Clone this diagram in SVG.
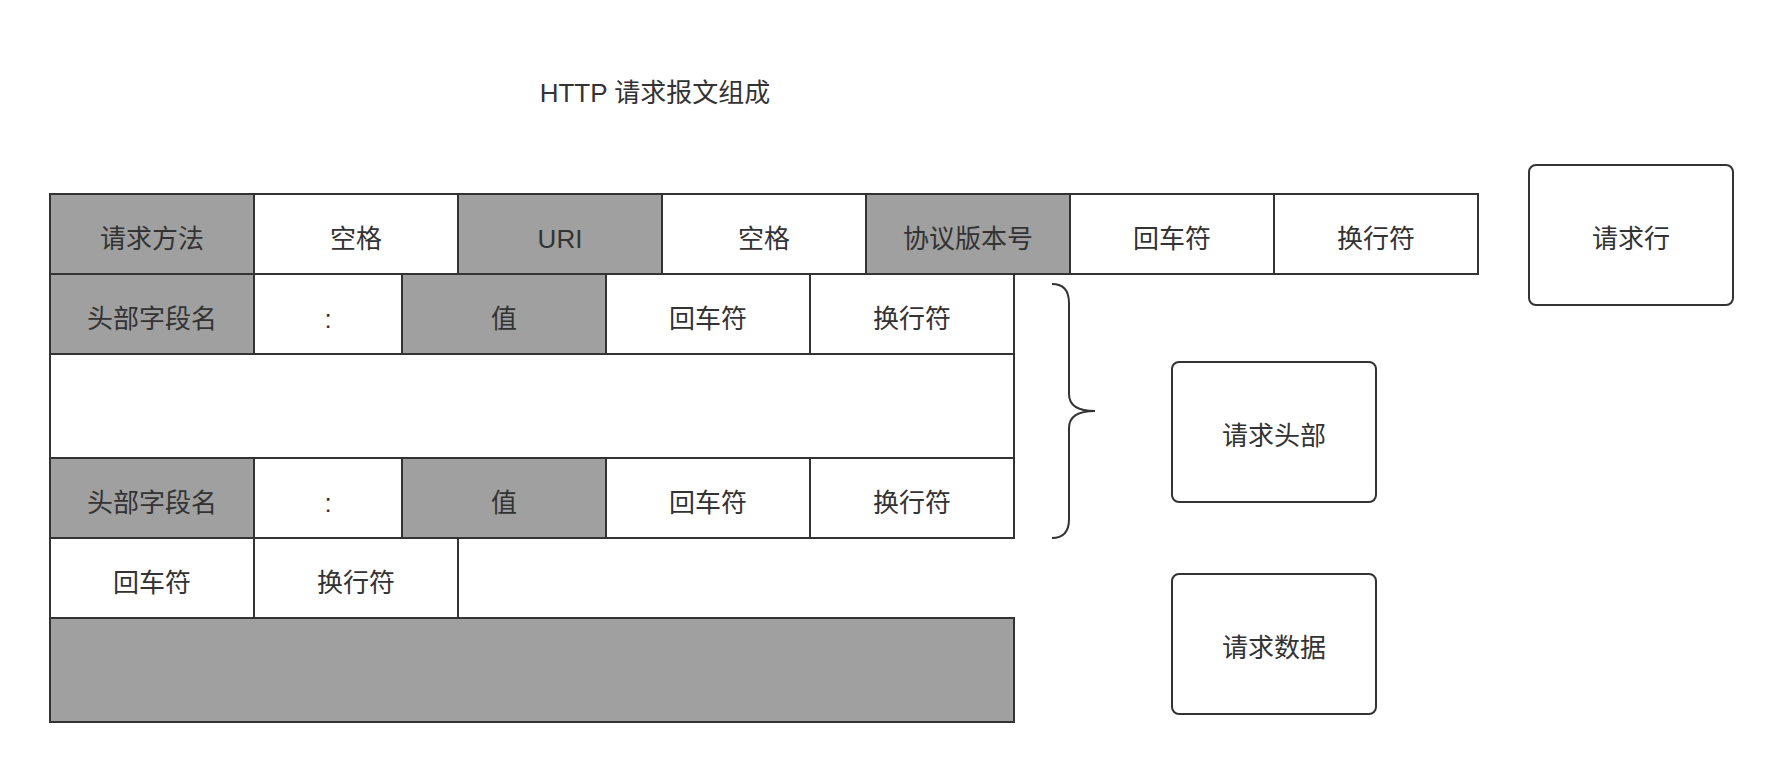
<svg xmlns="http://www.w3.org/2000/svg" width="1783" height="772" viewBox="0 0 1783 772">
<style>
text{font-family:"Liberation Sans","Noto Sans CJK SC",sans-serif;font-size:26px;fill:#333;text-anchor:middle;dominant-baseline:central}
.g{fill:#a0a0a0;stroke:#333;stroke-width:2}
.w{fill:#fff;stroke:#333;stroke-width:2}
.r{fill:#fff;stroke:#333;stroke-width:2}
.b{fill:none;stroke:#333;stroke-width:2}
</style>
<rect width="1783" height="772" fill="#fff"/>
<g id="title"><text x="655" y="93">HTTP 请求报文组成</text></g>
<g id="row1">
<g id="r1c1"><rect class="g" x="50" y="194" width="204" height="80"/><text x="152" y="239">请求方法</text></g>
<g id="r1c2"><rect class="w" x="254" y="194" width="204" height="80"/><text x="356" y="239">空格</text></g>
<g id="r1c3"><rect class="g" x="458" y="194" width="204" height="80"/><text x="560" y="239">URI</text></g>
<g id="r1c4"><rect class="w" x="662" y="194" width="204" height="80"/><text x="764" y="239">空格</text></g>
<g id="r1c5"><rect class="g" x="866" y="194" width="204" height="80"/><text x="968" y="239">协议版本号</text></g>
<g id="r1c6"><rect class="w" x="1070" y="194" width="204" height="80"/><text x="1172" y="239">回车符</text></g>
<g id="r1c7"><rect class="w" x="1274" y="194" width="204" height="80"/><text x="1376" y="239">换行符</text></g>
</g>
<g id="row2">
<g id="r2c1"><rect class="g" x="50" y="274" width="204" height="80"/><text x="152" y="319">头部字段名</text></g>
<g id="r2c2"><rect class="w" x="254" y="274" width="148" height="80"/><text x="328" y="319">:</text></g>
<g id="r2c3"><rect class="g" x="402" y="274" width="204" height="80"/><text x="504" y="319">值</text></g>
<g id="r2c4"><rect class="w" x="606" y="274" width="204" height="80"/><text x="708" y="319">回车符</text></g>
<g id="r2c5"><rect class="w" x="810" y="274" width="204" height="80"/><text x="912" y="319">换行符</text></g>
</g>
<g id="row3"><rect class="w" x="50" y="354" width="964" height="104"/></g>
<g id="row4">
<g id="r4c1"><rect class="g" x="50" y="458" width="204" height="80"/><text x="152" y="503">头部字段名</text></g>
<g id="r4c2"><rect class="w" x="254" y="458" width="148" height="80"/><text x="328" y="503">:</text></g>
<g id="r4c3"><rect class="g" x="402" y="458" width="204" height="80"/><text x="504" y="503">值</text></g>
<g id="r4c4"><rect class="w" x="606" y="458" width="204" height="80"/><text x="708" y="503">回车符</text></g>
<g id="r4c5"><rect class="w" x="810" y="458" width="204" height="80"/><text x="912" y="503">换行符</text></g>
</g>
<g id="row5">
<g id="r5c1"><rect class="w" x="50" y="538" width="204" height="80"/><text x="152" y="583">回车符</text></g>
<g id="r5c2"><rect class="w" x="254" y="538" width="204" height="80"/><text x="356" y="583">换行符</text></g>
</g>
<g id="row6"><rect class="g" x="50" y="618" width="964" height="104"/></g>
<g id="brace"><path class="b" d="M1052,284 Q1069,284 1069,303 L1069,394 Q1069,411 1095,411 Q1069,411 1069,428 L1069,519 Q1069,538 1052,538"/></g>
<g id="label-line"><rect class="r" x="1529" y="165" width="204" height="140" rx="7"/><text x="1631" y="239">请求行</text></g>
<g id="label-header"><rect class="r" x="1172" y="362" width="204" height="140" rx="7"/><text x="1274" y="436">请求头部</text></g>
<g id="label-data"><rect class="r" x="1172" y="574" width="204" height="140" rx="7"/><text x="1274" y="648">请求数据</text></g>
<g id="connectors"></g>
</svg>
